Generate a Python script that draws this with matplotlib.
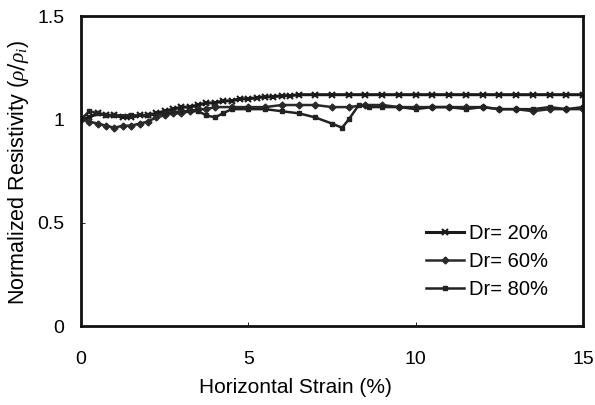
import matplotlib
matplotlib.use("Agg")
import matplotlib.pyplot as plt

plt.rcParams['font.family'] = ['Liberation Sans', 'DejaVu Sans']
plt.rcParams['mathtext.fontset'] = 'custom'
plt.rcParams['mathtext.it'] = 'Liberation Serif:italic'

strain_20 = [0.0, 0.25, 0.5, 0.75, 1.0, 1.25, 1.5, 1.75, 2.0, 2.25, 2.5, 2.75, 3.0, 3.25, 3.5, 3.75,
             4.0, 4.25, 4.5, 4.75, 5.0, 5.25, 5.5, 5.75, 6.0, 6.25, 6.5, 7.0, 7.5, 8.0, 8.5, 9.0,
             9.5, 10.0, 10.5, 11.0, 11.5, 12.0, 12.5, 13.0, 13.5, 14.0, 14.5, 15.0]
res_20 = [1.00, 1.01, 1.03, 1.02, 1.02, 1.01, 1.01, 1.02, 1.02, 1.03, 1.04, 1.05, 1.06, 1.06, 1.07, 1.08,
          1.08, 1.09, 1.09, 1.10, 1.10, 1.105, 1.11, 1.11, 1.115, 1.115, 1.12, 1.12, 1.12, 1.12, 1.12, 1.12,
          1.12, 1.12, 1.12, 1.12, 1.12, 1.12, 1.12, 1.12, 1.12, 1.12, 1.12, 1.12]

strain_60 = [0.0, 0.25, 0.5, 0.75, 1.0, 1.25, 1.5, 1.75, 2.0, 2.25, 2.5, 2.75, 3.0, 3.25, 3.5, 3.75,
             4.0, 4.5, 5.0, 5.5, 6.0, 6.5, 7.0, 7.5, 8.0, 8.5, 9.0, 9.5, 10.0, 10.5, 11.0, 11.5,
             12.0, 12.5, 13.0, 13.5, 14.0, 14.5, 15.0]
res_60 = [1.00, 0.99, 0.98, 0.97, 0.96, 0.97, 0.97, 0.98, 0.99, 1.01, 1.02, 1.03, 1.03, 1.04, 1.05, 1.05,
          1.06, 1.06, 1.06, 1.06, 1.07, 1.07, 1.07, 1.06, 1.06, 1.07, 1.07, 1.06, 1.06, 1.06, 1.06, 1.06,
          1.06, 1.05, 1.05, 1.04, 1.05, 1.05, 1.05]

strain_80 = [0.0, 0.25, 0.5, 0.75, 1.0, 1.5, 2.0, 2.5, 3.0, 3.5, 3.75, 4.0, 4.25, 4.5, 5.0, 5.5,
             6.0, 6.5, 7.0, 7.5, 7.8, 8.0, 8.3, 8.6, 9.0, 9.5, 10.0, 10.5, 11.0, 11.5, 12.0, 12.5,
             13.0, 13.5, 14.0, 14.5, 15.0]
res_80 = [1.00, 1.04, 1.03, 1.02, 1.02, 1.02, 1.02, 1.03, 1.04, 1.04, 1.02, 1.01, 1.03, 1.05, 1.05, 1.05,
          1.04, 1.03, 1.01, 0.98, 0.96, 1.00, 1.07, 1.06, 1.06, 1.06, 1.05, 1.06, 1.06, 1.05, 1.06, 1.05,
          1.05, 1.05, 1.06, 1.05, 1.06]

labels = ['Dr= 20%', 'Dr= 60%', 'Dr= 80%']
x_ticks = [0, 5, 10, 15]
y_ticks = [0, 0.5, 1, 1.5]
y_ticklabels = ['0', '0.5', '1', '1.5']

fig = plt.figure(figsize=(5.95, 4.05), dpi=100)
ax = fig.add_axes([0.136, 0.195, 0.844, 0.765])

ax.plot(strain_20, res_20, color='#1a1a1a', lw=2.2, marker='x', ms=5, mew=1.5, label=labels[0])
ax.plot(strain_60, res_60, color='#2a2a2a', lw=1.8, marker='D', ms=3.5, label=labels[1])
ax.plot(strain_80, res_80, color='#222222', lw=1.8, marker='s', ms=2.5, label=labels[2])

ax.set_xlim(0, 15)
ax.set_ylim(0, 1.5)
ax.set_xticks(x_ticks)
ax.set_xticklabels([str(t) for t in x_ticks])
ax.set_yticks(y_ticks)
ax.set_yticklabels(y_ticklabels)
ax.tick_params(direction='in', length=3, width=0.6, labelsize=14)
ax.tick_params(axis='x', pad=18)
ax.tick_params(axis='y', pad=12)
for s in ax.spines.values():
    s.set_linewidth(2)
    s.set_color('#111111')

ax.set_xlabel('Horizontal Strain (%)', fontsize=15)
ax.xaxis.set_label_coords(0.428, -0.168)
ax.set_ylabel(r'Normalized Resistivity ($\rho/\rho_i$)', fontsize=15.5)
ax.yaxis.set_label_coords(-0.1, 0.494)

ax.legend(loc='lower right', bbox_to_anchor=(0.947, 0.062), frameon=False, fontsize=14.5,
          handlelength=1.9, handletextpad=0.25, labelspacing=0.45, borderaxespad=0)

fig.savefig('out.png', dpi=100)
